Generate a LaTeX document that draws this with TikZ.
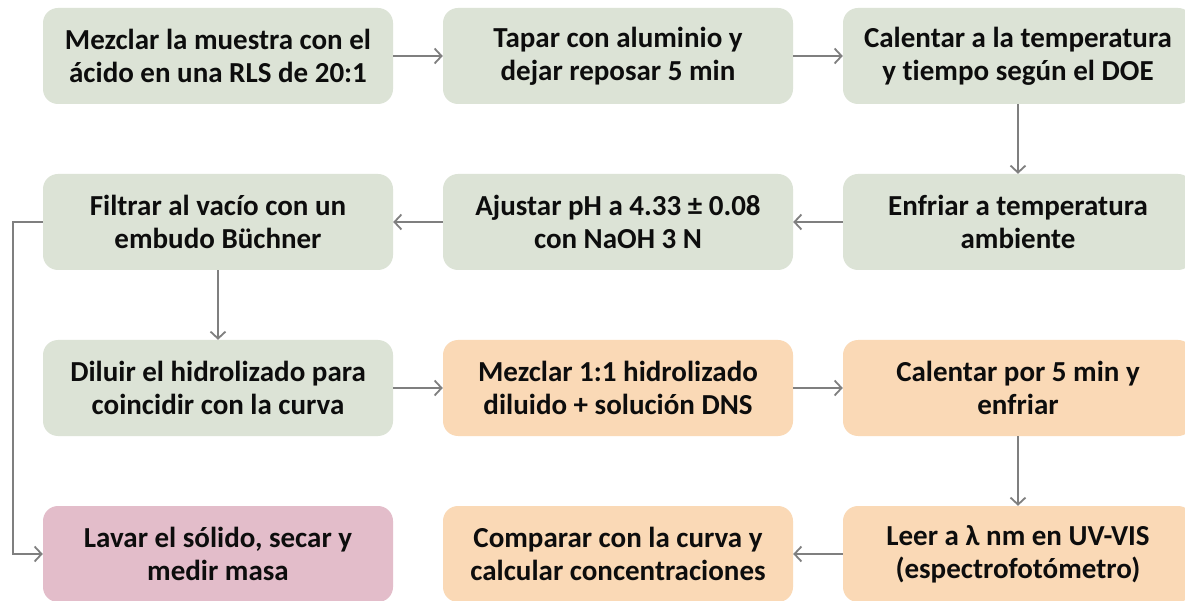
\documentclass[tikz,border=0pt]{standalone}
\usepackage{fontspec}
\setmainfont[Ligatures=NoCommon]{Carlito}
\usetikzlibrary{arrows.meta}
\definecolor{verde}{HTML}{DCE3D6}
\definecolor{naranja}{HTML}{FAD9B6}
\definecolor{rosa}{HTML}{E3BDCA}
\definecolor{gris}{HTML}{7F7F7F}
\definecolor{texto}{HTML}{0D0D0D}
\begin{document}
\begin{tikzpicture}[x=1pt,y=1pt,
    paso/.style={rounded corners=15pt, minimum width=350pt, minimum height=96pt,
      inner sep=0pt, align=center, text=texto,
      font=\fontsize{29}{33}\selectfont\bfseries},
    flecha/.style={draw=gris, line width=2pt,
      -{Straight Barb[length=7pt,width=15pt,line width=1.8pt]}}]
      \clip (0, 0) rectangle (1185, 600);
      \fill[white] (0, 0) rectangle (1185, 600);
      % first row
      \node[paso, fill=verde] (mezclar) at (218, 544) {Mezclar la muestra con el\\ácido en una RLS de 20:1};
      \node[paso, fill=verde] (tapar) at (618, 544) {Tapar con aluminio y\\dejar reposar 5 min};
      \node[paso, fill=verde] (calentar) at (1018, 544) {Calentar a la temperatura\\y tiempo según el DOE};
      % second row
      \node[paso, fill=verde] (filtrar) at (218, 378) {Filtrar al vacío con un\\embudo Büchner};
      \node[paso, fill=verde] (ajustar) at (618, 378) {Ajustar pH a 4.33 ± 0.08\\con NaOH 3 N};
      \node[paso, fill=verde] (enfriar) at (1018, 378) {Enfriar a temperatura\\ambiente};
      % third row
      \node[paso, fill=verde] (diluir) at (218, 212) {Diluir el hidrolizado para\\coincidir con la curva};
      \node[paso, fill=naranja] (mezclardns) at (618, 212) {Mezclar 1:1 hidrolizado\\diluido + solución DNS};
      \node[paso, fill=naranja] (calentardns) at (1018, 212) {Calentar por 5 min y\\enfriar};
      % fourth row
      \node[paso, fill=rosa] (lavar) at (218, 46) {Lavar el sólido, secar y\\medir masa};
      \node[paso, fill=naranja] (comparar) at (618, 46) {Comparar con la curva y\\calcular concentraciones};
      \node[paso, fill=naranja] (leer) at (1018, 46) {Leer a λ nm en UV-VIS\\(espectrofotómetro)};
      % arrows
      \draw[flecha] (mezclar) -- (tapar);
      \draw[flecha] (tapar) -- (calentar);
      \draw[flecha] (calentar) -- (enfriar);
      \draw[flecha] (enfriar) -- (ajustar);
      \draw[flecha] (ajustar) -- (filtrar);
      \draw[flecha] (filtrar) -- (diluir);
      \draw[flecha] (diluir) -- (mezclardns);
      \draw[flecha] (mezclardns) -- (calentardns);
      \draw[flecha] (calentardns) -- (leer);
      \draw[flecha] (leer) -- (comparar);
      % solid residue
      \coordinate (retorno) at (13, 378);
      \draw[flecha] (filtrar.west) -- (retorno) |- (lavar.west);
\end{tikzpicture}
\end{document}
